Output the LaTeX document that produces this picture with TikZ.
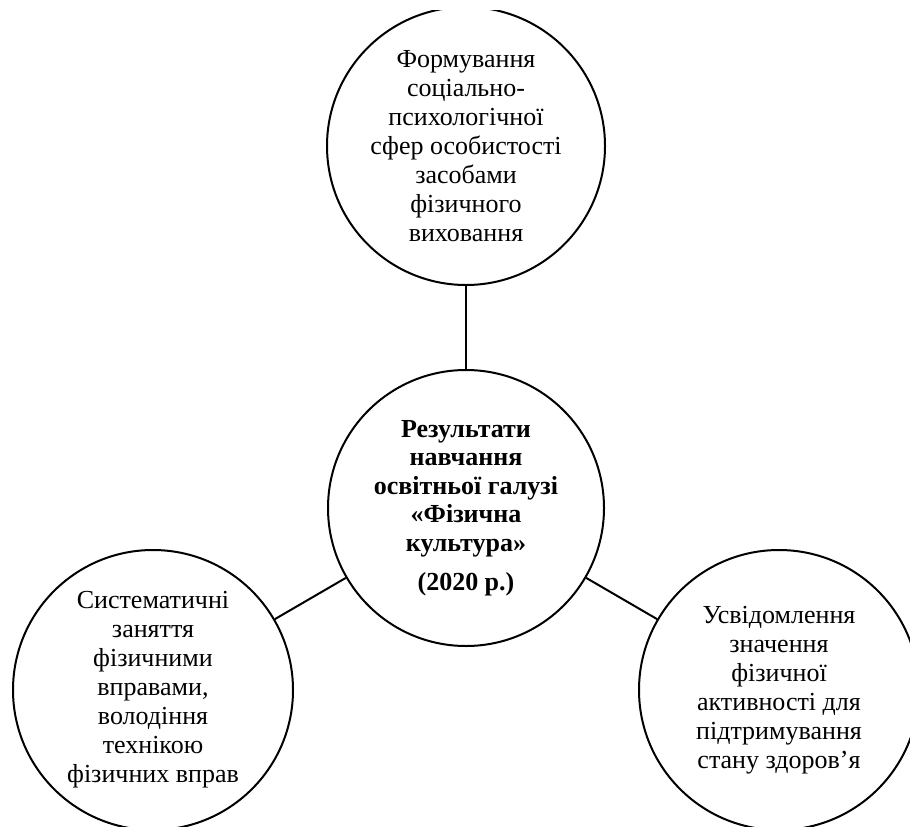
\documentclass[tikz,border=0pt]{standalone}
\usepackage{fontspec}
\setmainfont{Liberation Serif}
\begin{document}
\begin{tikzpicture}[x=1pt,y=-1pt,
  bub/.style={circle,draw=black,line width=2pt,inner sep=0pt,minimum size=#1,align=center,
    font=\fontsize{26}{29}\selectfont},
  link/.style={line width=2pt}]
\useasboundingbox (0,0) rectangle (910,827);
\clip (0,10) rectangle (910,827);
\node[bub=278pt] (t) at (466,146) {Формування\\соціально-\\психологічної\\сфер особистості\\засобами\\фізичного\\виховання};
\node[bub=276pt,font=\fontsize{26}{28.5}\selectfont\bfseries] (c) at (466,508) {Результати\\навчання\\освітньої галузі\\«Фізична\\культура»\\[11pt](2020 р.)};
\node[bub=280pt] (l) at (153,690) {Систематичні\\заняття\\фізичними\\вправами,\\володіння\\технікою\\фізичних вправ};
\node[bub=280pt] (r) at (779,690) {Усвідомлення\\значення\\фізичної\\активності для\\підтримування\\стану здоров’я};
\draw[link] (c) -- (t);
\draw[link] (c) -- (l);
\draw[link] (c) -- (r);
\end{tikzpicture}
\end{document}
